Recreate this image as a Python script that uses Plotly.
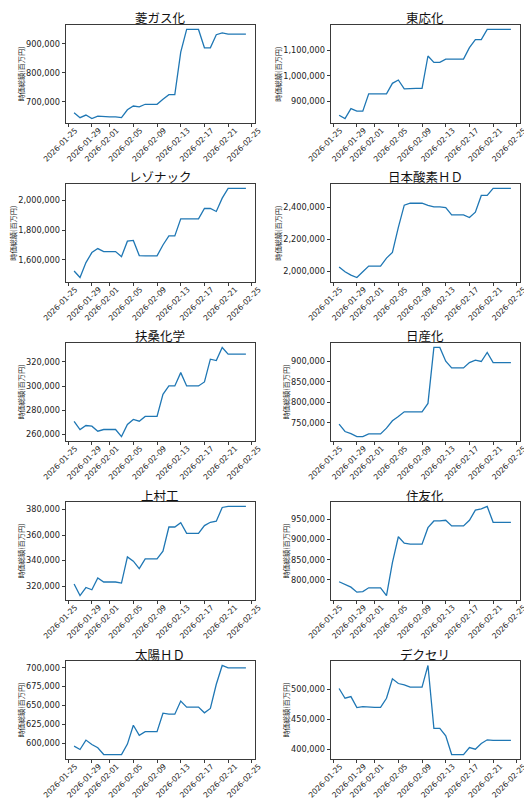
import pandas as pd
import plotly.graph_objects as go
from plotly.subplots import make_subplots

# daily market cap (百万円), 2026-01-26 .. 2026-02-24
dates = pd.date_range("2026-01-26", "2026-02-24", freq="D")
x_ticks = ["2026-01-25", "2026-01-29", "2026-02-01", "2026-02-05", "2026-02-09",
           "2026-02-13", "2026-02-17", "2026-02-21", "2026-02-25"]

names = ["菱ガス化", "東応化", "レゾナック", "日本酸素ＨＤ", "扶桑化学",
         "日産化", "上村工", "住友化", "太陽ＨＤ", "デクセリ"]

mgc = [663000, 646000, 655000, 643000, 651000, 649000, 649000, 649000, 646000, 673000,
       686000, 683000, 692000, 692000, 692000, 709000, 725000, 725000, 871000, 949000,
       949000, 949000, 886000, 886000, 931000, 937000, 933000, 933000, 933000, 933000]
tok = [846000, 833000, 872000, 862000, 862000, 930000, 930000, 930000, 930000, 971000,
       984000, 949000, 951000, 951000, 951000, 1078000, 1053000, 1053000, 1066000, 1066000,
       1066000, 1066000, 1111000, 1142000, 1142000, 1182000, 1182000, 1182000, 1182000, 1182000]
resonac = [1526000, 1482000, 1582000, 1649000, 1676000, 1656000, 1656000, 1656000, 1622000, 1725000,
           1730000, 1629000, 1627000, 1627000, 1627000, 1700000, 1761000, 1761000, 1875000, 1875000,
           1875000, 1875000, 1944000, 1944000, 1924000, 2013000, 2078000, 2078000, 2078000, 2078000]
nippon_sanso = [2027000, 1996000, 1975000, 1960000, 1996000, 2032000, 2032000, 2032000, 2082000, 2118000,
                2275000, 2415000, 2427000, 2427000, 2427000, 2413000, 2404000, 2404000, 2400000, 2354000,
                2354000, 2354000, 2337000, 2371000, 2476000, 2476000, 2520000, 2520000, 2520000, 2520000]
fuso = [270800, 264100, 267400, 266900, 262700, 264100, 264100, 264100, 258300, 268300,
        272400, 271000, 274900, 274900, 274900, 293200, 300100, 300100, 311100, 300100,
        300100, 300100, 303400, 322200, 321100, 331900, 326400, 326400, 326400, 326400]
nissan_chem = [746700, 728700, 723800, 716500, 716500, 723000, 723000, 723000, 736900, 754800,
               765400, 776800, 776800, 776800, 776800, 797200, 933400, 933400, 900000, 883700,
               883700, 883700, 896700, 902400, 899200, 921200, 896700, 896700, 896700, 896700]
uyemura = [321600, 312600, 318900, 317100, 326300, 323200, 323200, 323200, 322400, 342900,
           339500, 333700, 341300, 341300, 341300, 347400, 366300, 366300, 369700, 361300,
           361300, 361300, 367400, 370000, 370800, 381600, 382400, 382400, 382400, 382400]
sumitomo_chem = [795500, 788900, 782200, 769800, 771400, 780600, 780600, 780600, 761500, 842900,
                 906800, 891000, 888500, 888500, 888500, 929200, 945800, 945800, 947500, 933400,
                 933400, 933400, 947500, 972400, 975700, 981600, 942500, 942500, 942500, 942500]
taiyo = [596000, 591500, 604000, 598200, 593800, 584800, 584800, 584800, 584800, 598700,
         623700, 610300, 615200, 615200, 615200, 639700, 638400, 638400, 655800, 647800,
         647800, 647800, 640200, 646000, 678100, 703100, 700000, 700000, 700000, 700000]
dexerials = [501700, 485400, 488200, 469700, 471300, 470200, 470200, 470200, 485400, 518000,
             510100, 507900, 503900, 503900, 503900, 540400, 434800, 434800, 422500, 391000,
             391000, 391000, 402800, 400000, 409600, 415700, 414600, 414600, 414600, 414600]

series = [mgc, tok, resonac, nippon_sanso, fuso, nissan_chem, uyemura, sumitomo_chem, taiyo, dexerials]
y_dticks = [100000, 100000, 200000, 200000, 20000, 50000, 20000, 50000, 25000, 50000]

W, H = 532, 800
COL_X = [(57.5, 246.5), (322.5, 511.5)]
ROW_TOP, ROW_H, ROW_STEP = 17, 98, 159
JP = "Noto Sans CJK JP"
AX = "#3a3a3a"
Y_TICK_PX = 8.2
X_TICK_PX = 7.6

fig = make_subplots(rows=5, cols=2)
pad = pd.Timedelta(days=1.45)
x_range = [dates[0] - pad, dates[-1] + pad]

for i, (name, ys) in enumerate(zip(names, series)):
    r, c = i // 2, i % 2
    fig.add_trace(
        go.Scatter(x=dates, y=ys, mode="lines", line=dict(color="#1f77b4", width=1.3),
                   showlegend=False),
        row=r + 1, col=c + 1,
    )
    top = ROW_TOP + r * ROW_STEP
    bot = top + ROW_H
    x0, x1 = COL_X[c]
    lo, hi = min(ys), max(ys)
    m = (hi - lo) * 0.05
    fig.update_xaxes(
        domain=[x0 / W, x1 / W], range=x_range,
        tickvals=x_ticks, ticktext=x_ticks, tickangle=-45,
        ticklabelshift=7, ticklabelstandoff=-4,
        row=r + 1, col=c + 1,
    )
    fig.update_yaxes(
        domain=[1 - bot / H, 1 - top / H], range=[lo - m, hi + m],
        dtick=y_dticks[i], tick0=0, tickformat=",d",
        row=r + 1, col=c + 1,
    )
    fig.add_annotation(
        text=name, x=(x0 + x1) / 2 / W, y=1 - (top - 7) / H, xref="paper", yref="paper",
        xanchor="center", yanchor="middle", showarrow=False,
        font=dict(family=JP, size=12.5, color="#111"),
    )
    # y label sits left of the tick labels, wider labels push it further out
    widest = f"{int(hi):,}"
    label_w = Y_TICK_PX * (0.636 * sum(ch.isdigit() for ch in widest) + 0.318 * widest.count(","))
    fig.add_annotation(
        text="時価総額(百万円)", x=(x0 - label_w - 11) / W, y=1 - (top + bot) / 2 / H,
        xref="paper", yref="paper", xanchor="center", yanchor="middle", textangle=-90,
        showarrow=False, font=dict(family=JP, size=7.2, color="#222"),
    )

axis_style = dict(showgrid=False, zeroline=False, showline=True, mirror=True, linecolor=AX,
                  linewidth=1, ticks="outside", ticklen=3, tickcolor=AX, automargin=False)
fig.update_xaxes(**axis_style, tickfont=dict(family="DejaVu Sans", size=X_TICK_PX, color="#222"))
fig.update_yaxes(**axis_style, tickfont=dict(family="DejaVu Sans", size=Y_TICK_PX, color="#222"))

fig.update_layout(
    width=W, height=H, margin=dict(l=0, r=0, t=0, b=0),
    paper_bgcolor="white", plot_bgcolor="white",
)

fig.write_html("out.html")
